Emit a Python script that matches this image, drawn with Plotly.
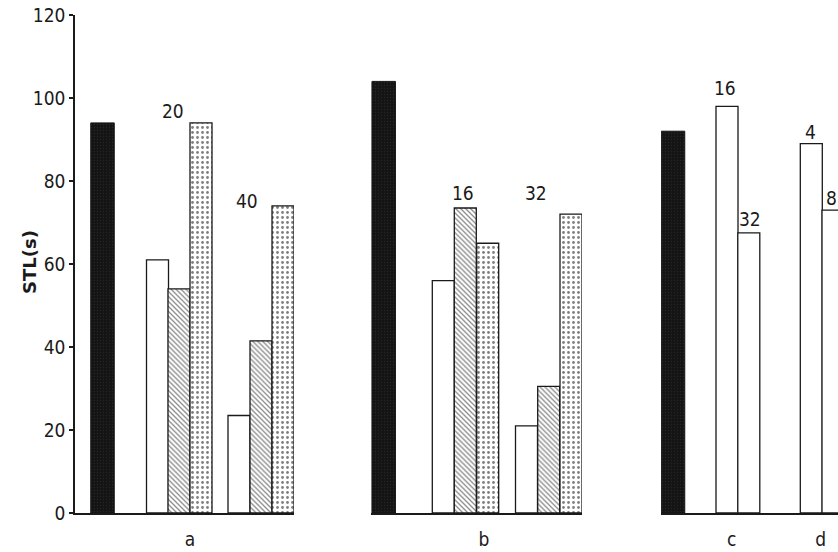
import plotly.graph_objects as go

# ---------------- data ----------------
groups = ["a", "b", "c", "d"]
control_stl = [94, 104, 92]            # black bars (panels a, b, c/d)
a_white = [61, 23.5]
a_hatched = [54, 41.5]
a_dotted = [94, 74]
a_doses = ["20", "40"]
b_white = [56, 21]
b_hatched = [73.5, 30.5]
b_dotted = [65, 72]
b_doses = ["16", "32"]
c_white = [98, 67.5]
c_doses = ["16", "32"]
d_white = [89, 73]
d_doses = ["4", "8"]
y_ticks = [0, 20, 40, 60, 80, 100, 120]

# ---------------- layout constants (pixel-like x units) ----------------
W, H = 838, 552
ML, MR, MT, MB = 75, 0, 15, 39
PW = W - ML - MR
panel_px = {"x": (75, 294), "x2": (371, 582), "x3": (661, 838)}
BW = 22.0
BLACK_W = 23.5
ctrl_x = {"x": 102.5, "x2": 383.7, "x3": 673}
a_pos = {"white": [157.5, 239], "hatched": [179, 261], "dotted": [201, 283]}
b_pos = {"white": [443.3, 526.5], "hatched": [465.3, 548.7], "dotted": [487.7, 571]}
c_pos = [727, 748.8]
d_pos = [811.3, 833]
group_label_x = [190, 484, 731.7, 820.7]
a_lab = [(172.7, 96.9), (246.7, 75.1)]
b_lab = [(463.3, 77.1), (536, 77.0)]
c_lab = [(725, 102.4), (750, 70.8)]
d_lab = [(810, 91.8), (831.7, 75.8)]

FONT = "DejaVu Sans Condensed, DejaVu Sans, sans-serif"
INK = "#1a1a1a"

line = dict(color=INK, width=1.3)
white_m = dict(color="white", line=line)
hatch_m = dict(color="white", line=line,
               pattern=dict(shape="\\", fgcolor=INK, bgcolor="white", size=3.5, solidity=0.38))
dot_m = dict(color="white", line=line,
             pattern=dict(shape=".", fgcolor="#000000", bgcolor="white", size=5, solidity=0.24))
black_m = dict(color="#151515", line=dict(color="#151515", width=1),
               pattern=dict(shape=".", fgcolor="#3a3a3a", bgcolor="#141414", size=3, solidity=0.15))

fig = go.Figure()

def bars(xs, ys, marker, xa, w=BW):
    fig.add_trace(go.Bar(x=xs, y=ys, width=[w] * len(xs), marker=marker,
                         xaxis=xa, yaxis="y", showlegend=False, hoverinfo="y"))

for i, xa in enumerate(["x", "x2", "x3"]):
    bars([ctrl_x[xa]], [control_stl[i]], black_m, xa, BLACK_W)

bars(a_pos["white"], a_white, white_m, "x")
bars(a_pos["hatched"], a_hatched, hatch_m, "x")
bars(a_pos["dotted"], a_dotted, dot_m, "x")
bars(b_pos["white"], b_white, white_m, "x2")
bars(b_pos["hatched"], b_hatched, hatch_m, "x2")
bars(b_pos["dotted"], b_dotted, dot_m, "x2")
bars(c_pos, c_white, white_m, "x3")
bars(d_pos, d_white, white_m, "x3")

annotations = []
def labels(texts, poss, xref):
    for t, (x, y) in zip(texts, poss):
        annotations.append(dict(text=t, x=x, y=y, xref=xref, yref="y", showarrow=False,
                                font=dict(family=FONT, size=19, color=INK)))

labels(a_doses, a_lab, "x")
labels(b_doses, b_lab, "x2")
labels(c_doses, c_lab, "x3")
labels(d_doses, d_lab, "x3")

annotations.append(dict(text="<b>STL(s)</b>", x=(16.5 - ML) / PW, y=(H - MB - 262) / (H - MT - MB),
                        xref="paper", yref="paper", textangle=-90, showarrow=False,
                        font=dict(family="DejaVu Sans, sans-serif", size=18, color=INK)))

def dom(k):
    a, b = panel_px[k]
    return [(a - ML) / PW, (b - ML) / PW]

xcommon = dict(showline=True, linecolor=INK, linewidth=1.5, showgrid=False, zeroline=False,
               ticks="", tickfont=dict(family=FONT, size=19, color=INK), ticklabelstandoff=8,
               fixedrange=True, anchor="y")

fig.update_layout(
    width=W, height=H, margin=dict(l=ML, r=MR, t=MT, b=MB, autoexpand=False),
    paper_bgcolor="white", plot_bgcolor="white", barmode="overlay",
    xaxis=dict(domain=dom("x"), range=list(panel_px["x"]), tickvals=[group_label_x[0]],
               ticktext=[groups[0]], **xcommon),
    xaxis2=dict(domain=dom("x2"), range=list(panel_px["x2"]), tickvals=[group_label_x[1]],
                ticktext=[groups[1]], **xcommon),
    xaxis3=dict(domain=dom("x3"), range=list(panel_px["x3"]), tickvals=group_label_x[2:],
                ticktext=groups[2:], **xcommon),
    yaxis=dict(range=[0, 120], tickvals=y_ticks, showline=True, linecolor=INK, linewidth=1.5,
               ticks="outside", ticklen=4, tickwidth=1.5, tickcolor=INK, showgrid=False,
               zeroline=False, tickfont=dict(family=FONT, size=19, color=INK),
               anchor="x", fixedrange=True),
    annotations=annotations,
)

fig.write_html("out.html", config={"displayModeBar": False},
               post_script="document.body.style.margin='0';document.body.style.overflow='hidden';")
